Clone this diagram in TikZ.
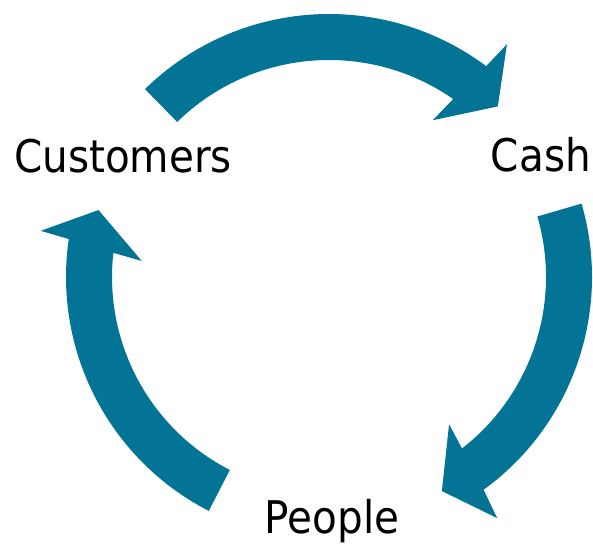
\documentclass[tikz,border=0pt]{standalone}
\usepackage{fontspec}
\setmainfont{DejaVu Sans Condensed}
\usepackage{tikz}

\definecolor{cycleteal}{RGB}{3,116,150}
\tikzset{
	cyclearrow/.style={fill=cycleteal, draw=none},
	cyclelabel/.style={inner sep=0pt, font=\fontsize{45}{54}\selectfont},
}

\begin{document}
\begin{tikzpicture}[x=1pt, y=1pt]
	\useasboundingbox (0,0) rectangle (593,544);
	
	\node[cyclelabel, anchor=base west] (customers) at (14,371) {Customers};
	\node[cyclelabel, anchor=base east] (cash) at (591,372) {Cash};
	\node[cyclelabel, anchor=base] (people) at (332,11) {People};
	
	\begin{scope}[shift={(329,267)}]
		% arrow 1: customers to cash
		\fill[cyclearrow] (134.4:263) arc[start angle=134.4, end angle=53.3, radius=263]
			-- (52.6:293) -- (45.3:240) -- (56.5:188) -- (55.1:217)
			arc[start angle=55.1, end angle=134.4, radius=217] -- cycle;
		% arrow 2: cash to people
		\fill[cyclearrow] (16.2:263) arc[start angle=16.2, end angle=-54, radius=263]
			-- (-55.1:294) -- (-62.2:242) -- (-50.8:190) -- (-52.2:217)
			arc[start angle=-52.2, end angle=16.2, radius=217] -- cycle;
		% arrow 3: people to customers
		\fill[cyclearrow] (242.8:263) arc[start angle=242.8, end angle=171.7, radius=263]
			-- (170.9:292) -- (163.8:240) -- (175.1:188) -- (173.6:217)
			arc[start angle=173.6, end angle=242.8, radius=217] -- cycle;
	\end{scope}
\end{tikzpicture}
\end{document}
